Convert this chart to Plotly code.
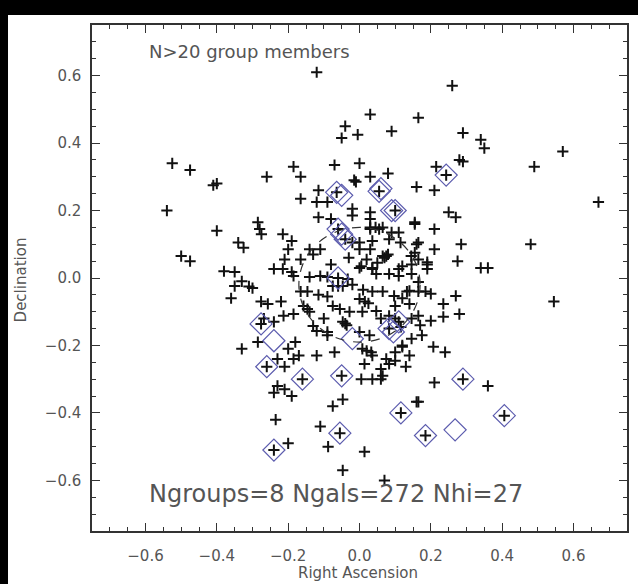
import plotly.graph_objects as go

# Galaxy members of the N>20 groups (RA, Dec offsets in degrees)
gal_ra = [
    # outer / upper right
    -0.12, 0.26, 0.03, 0.165, -0.04, -0.005, 0.09, -0.05, 0.29, 0.34, 0.35, 0.57,
    0.49, 0.28, 0.29, 0.215, 0.0, -0.07, 0.03, 0.08, -0.015, -0.01, 0.16, 0.21,
    0.67, 0.25, 0.27, 0.155, 0.21, 0.48, 0.285, 0.21, 0.275, 0.19, 0.34, 0.36,
    # upper left
    -0.525, -0.475, -0.40, -0.41, -0.26, -0.185, -0.165, -0.165, -0.12, -0.09, -0.115, -0.54,
    -0.285, -0.28, -0.275, -0.40, -0.215, -0.115, -0.08, -0.02, -0.02, -0.34, -0.325, -0.19,
    -0.20, -0.21, -0.50, -0.475, -0.38, -0.35, -0.24, -0.215, -0.14, -0.11, -0.13, -0.165,
    # core, upper half
    0.03, 0.03, 0.03, 0.045, 0.065, 0.03, 0.055, 0.09, 0.11, 0.083, 0.115, 0.155,
    0.165, 0.16, 0.155, 0.145, 0.165, -0.02, 0.0, 0.036, 0.03, 0.0, 0.075, 0.07,
    0.08, 0.065, 0.02, 0.005, 0.036, 0.11, 0.12, 0.146, 0.19,
    # core
    -0.33, -0.31, -0.36, -0.30, -0.35, -0.19, -0.185, -0.14, -0.11, -0.09, 0.0, 0.036,
    -0.033, -0.02, -0.06, 0.047, 0.083, 0.11, 0.146, 0.165, 0.19, -0.165, -0.146, -0.115,
    -0.09, -0.075, -0.047, 0.0, 0.036, 0.065, 0.097, 0.133, 0.185, 0.14, 0.165, 0.2,
    0.235, 0.27, 0.10, 0.14, 0.545, -0.276, -0.257, -0.22, -0.157, -0.14, -0.146, -0.075,
    -0.055, -0.028, 0.008, 0.047, 0.015, 0.025, 0.083, 0.10, 0.146, 0.17, 0.165, 0.2,
    0.235, 0.28, -0.268, -0.24, -0.213, -0.185, -0.13, -0.09, -0.12, -0.09, -0.047, -0.036,
    -0.04, 0.0, 0.028, 0.116, 0.175, 0.05, -0.08, 0.12, -0.03, 0.06, -0.10, 0.01,
    # lower half
    -0.33, -0.285, -0.20, -0.185, -0.12, -0.07, 0.008, 0.033, 0.10, 0.14, 0.207, 0.24,
    0.12, -0.23, -0.21, -0.18, -0.17, -0.19, -0.24, -0.23, -0.21, -0.047, -0.075, -0.235,
    -0.11, -0.088, -0.20, 0.014, -0.047, 0.07, 0.005, 0.036, 0.06, 0.014, 0.06, 0.083,
    0.10, 0.13, 0.075, 0.02, 0.036, 0.146, 0.12, 0.16, 0.065, 0.21, 0.36, 0.165,
    # members with HI detections
    -0.064, 0.055, 0.10, 0.243, -0.06, -0.04, -0.06, 0.083, 0.11, -0.276, -0.26, -0.16,
    -0.05, 0.116, -0.055, -0.24, 0.29, 0.185, 0.406,
]
gal_dec = [
    0.61, 0.57, 0.485, 0.475, 0.45, 0.425, 0.435, 0.415, 0.43, 0.41, 0.385, 0.375,
    0.33, 0.35, 0.345, 0.33, 0.34, 0.335, 0.30, 0.31, 0.29, 0.285, 0.27, 0.26,
    0.225, 0.195, 0.18, 0.16, 0.145, 0.10, 0.10, 0.085, 0.05, 0.04, 0.03, 0.03,
    0.34, 0.32, 0.28, 0.275, 0.30, 0.33, 0.30, 0.235, 0.225, 0.225, 0.26, 0.20,
    0.165, 0.145, 0.13, 0.14, 0.13, 0.18, 0.175, 0.205, 0.185, 0.105, 0.09, 0.11,
    0.085, 0.055, 0.065, 0.05, 0.02, 0.018, 0.027, 0.027, 0.085, 0.085, 0.07, 0.055,
    0.175, 0.195, 0.15, 0.15, 0.15, 0.145, 0.145, 0.135, 0.135, 0.115, 0.105, 0.165,
    0.105, 0.10, 0.075, 0.065, 0.055, 0.105, 0.105, 0.11, 0.085, 0.085, 0.065, 0.06,
    0.07, 0.065, 0.055, 0.035, 0.027, 0.027, 0.035, 0.04, 0.047,
    -0.01, -0.025, -0.06, -0.03, -0.024, 0.018, 0.006, 0.003, 0.006, 0.003, 0.03, 0.03,
    -0.003, -0.02, -0.024, 0.012, 0.012, 0.006, 0.012, -0.012, 0.027, -0.04, -0.04, -0.05,
    -0.055, -0.024, -0.024, -0.062, -0.04, -0.04, -0.053, -0.04, -0.04, -0.038, -0.04, -0.047,
    -0.077, -0.053, -0.083, -0.077, -0.07, -0.07, -0.077, -0.07, -0.083, -0.10, -0.092, -0.083,
    -0.092, -0.10, -0.10, -0.098, -0.07, -0.075, -0.112, -0.12, -0.12, -0.14, -0.112, -0.127,
    -0.115, -0.107, -0.12, -0.13, -0.112, -0.107, -0.142, -0.16, -0.157, -0.17, -0.13, -0.14,
    -0.135, -0.16, -0.17, -0.145, -0.17, 0.045, 0.04, -0.06, 0.06, -0.12, -0.12, -0.035,
    -0.21, -0.19, -0.21, -0.24, -0.23, -0.22, -0.21, -0.22, -0.22, -0.23, -0.204, -0.22,
    -0.204, -0.24, -0.263, -0.19, -0.23, -0.35, -0.34, -0.32, -0.33, -0.36, -0.38, -0.42,
    -0.44, -0.50, -0.49, -0.515, -0.57, -0.60, -0.30, -0.30, -0.30, -0.255, -0.27, -0.255,
    -0.245, -0.263, -0.24, -0.216, -0.23, -0.18, -0.20, -0.367, -0.29, -0.31, -0.32, -0.367,
    0.254, 0.257, 0.20, 0.305, 0.145, 0.115, 0.0, -0.15, -0.13, -0.136, -0.263, -0.30,
    -0.29, -0.40, -0.46, -0.51, -0.30, -0.467, -0.408,
]

# Members detected in HI
hi_ra = [
    -0.064, -0.05, 0.055, 0.06, 0.10, 0.09, 0.243, -0.06, -0.05, -0.04, -0.06, -0.02,
    0.083, 0.095, 0.11, -0.276, -0.24, -0.26, -0.16, -0.05, 0.116, -0.055, -0.24, 0.29,
    0.185, 0.268, 0.406,
]
hi_dec = [
    0.254, 0.245, 0.257, 0.265, 0.20, 0.20, 0.305, 0.145, 0.13, 0.115, 0.0, -0.18,
    -0.15, -0.16, -0.13, -0.136, -0.186, -0.263, -0.30, -0.29, -0.40, -0.46, -0.51, -0.30,
    -0.467, -0.45, -0.408,
]

x_ticks = [-0.6, -0.4, -0.2, 0.0, 0.2, 0.4, 0.6]
y_ticks = [-0.6, -0.4, -0.2, 0.0, 0.2, 0.4, 0.6]

FONT = "DejaVu Sans"
TXT = "#555555"
AX = "#333333"

fig = go.Figure()

fig.add_trace(go.Scatter(
    x=gal_ra, y=gal_dec, mode="markers",
    marker=dict(symbol="cross-thin", size=8, line=dict(color="#111111", width=2)),
    showlegend=False, hoverinfo="skip",
))
fig.add_trace(go.Scatter(
    x=hi_ra, y=hi_dec, mode="markers",
    marker=dict(symbol="diamond-open", size=17, color="#5c5cae",
                line=dict(color="#5c5cae", width=1.2)),
    showlegend=False, hoverinfo="skip",
))

axis_common = dict(
    range=[-0.75, 0.75], tickmode="array",
    ticks="inside", ticklen=8, tickwidth=1.2, tickcolor=AX,
    showline=True, linecolor=AX, linewidth=1.5, mirror="allticks",
    showgrid=False, zeroline=False, tickformat=".1f",
    tickfont=dict(family=FONT, size=15, color=TXT),
    minor=dict(dtick=0.05, tick0=0, ticks="inside", ticklen=4, tickwidth=1, tickcolor=AX),
)

fig.update_layout(
    width=638, height=584,
    margin=dict(l=92, r=9, t=25, b=53),
    paper_bgcolor="white", plot_bgcolor="white",
    xaxis=dict(axis_common, tickvals=x_ticks, ticklabelstandoff=10),
    yaxis=dict(axis_common, tickvals=y_ticks, ticklabelstandoff=6),
    font=dict(family=FONT, color=TXT),
    shapes=[
        # black frame band along the top edge
        dict(type="rect", xref="paper", yref="paper", x0=-0.2, x1=1.05, y0=1.0198, y1=1.06,
             fillcolor="black", line=dict(width=0), layer="above"),
        # black strip along the left edge
        dict(type="rect", xref="paper", yref="paper", x0=-0.2, x1=-0.157, y0=-0.12, y1=1.06,
             fillcolor="black", line=dict(width=0), layer="above"),
        # dashed core radius
        dict(type="circle", xref="x", yref="y", x0=-0.17, x1=0.17, y0=-0.19, y1=0.15,
             line=dict(color="#333333", width=1.2, dash="dash"), layer="above"),
    ],
    annotations=[
        dict(text="N>20 group members", x=-0.595, y=0.67, xref="x", yref="y",
             xanchor="left", yanchor="middle", showarrow=False,
             font=dict(family=FONT, size=18, color=TXT)),
        dict(text="Ngroups=8 Ngals=272 Nhi=27", x=-0.595, y=-0.64, xref="x", yref="y",
             xanchor="left", yanchor="middle", showarrow=False,
             font=dict(family=FONT, size=24, color=TXT)),
        dict(text="Right Ascension", x=0.497, y=-0.083, xref="paper", yref="paper",
             xanchor="center", yanchor="middle", showarrow=False,
             font=dict(family=FONT, size=15, color=TXT)),
        dict(text="Declination", x=-0.132, y=0.496, xref="paper", yref="paper",
             xanchor="center", yanchor="middle", showarrow=False, textangle=-90,
             font=dict(family=FONT, size=15, color=TXT)),
    ],
)

fig.write_html("out.html")
